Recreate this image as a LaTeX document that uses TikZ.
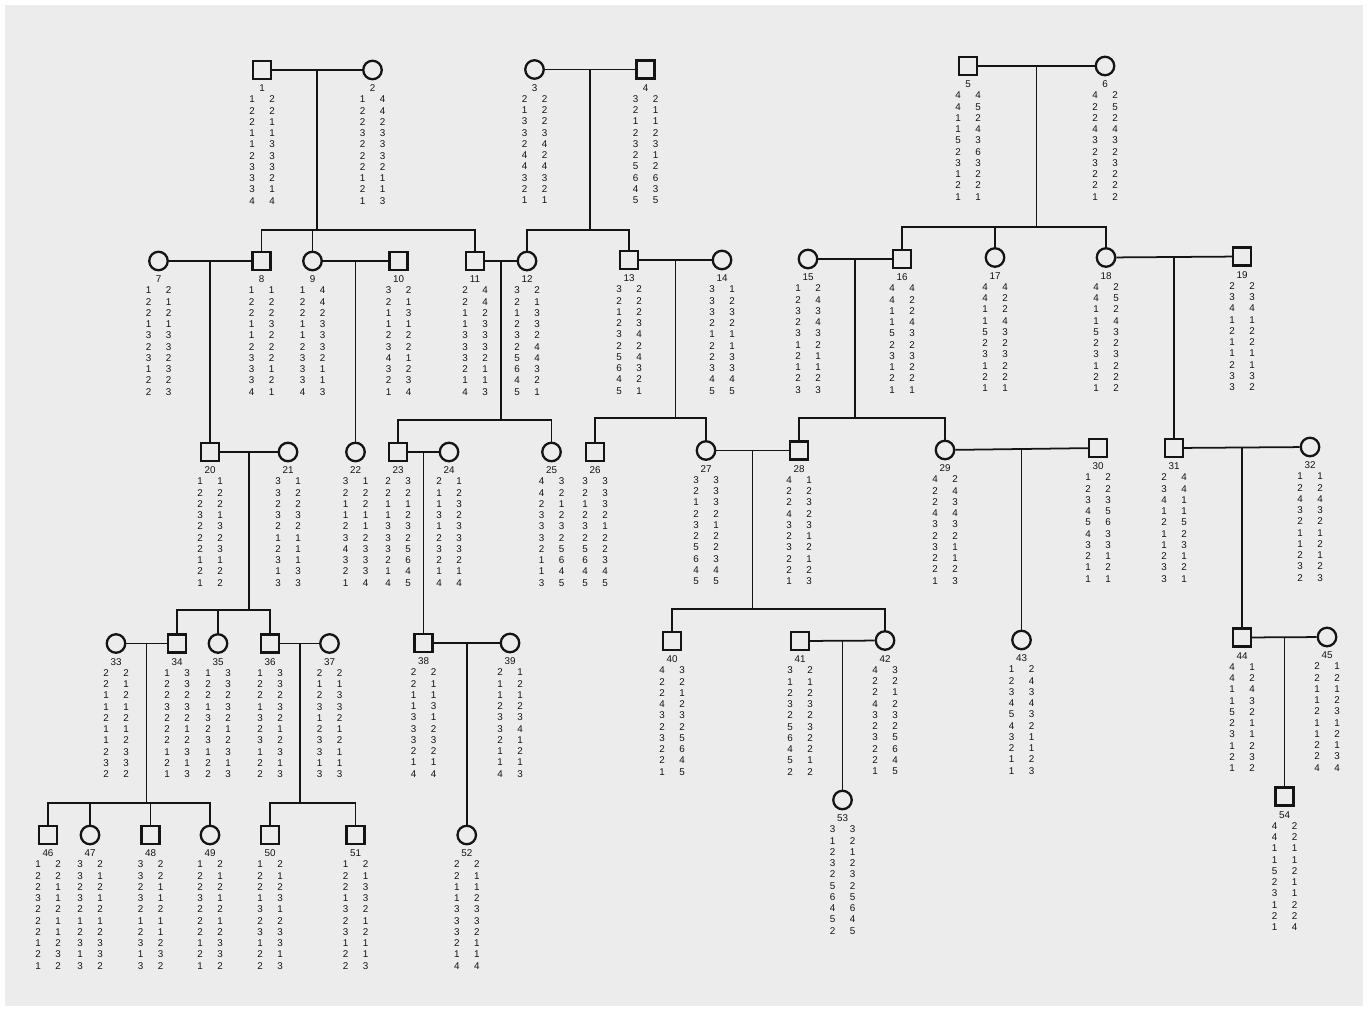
\documentclass[tikz,border=0pt]{standalone}
\usepackage{fontspec}
\newfontfamily\pedfont{Liberation Sans}
\usepackage{tikz}
\usetikzlibrary{positioning, calc}

\definecolor{paper}{RGB}{236,236,236}
\definecolor{ink}{RGB}{20,20,20}

\tikzset{
  male/.style={draw=ink, line width=1.3pt, rectangle, minimum size=0.36cm, inner sep=0pt},
  female/.style={draw=ink, line width=1.3pt, circle, minimum size=0.37cm, inner sep=0pt},
  line/.style={draw=ink, line width=1pt},
  idnum/.style={font=\pedfont\fontsize{5.6}{6}\selectfont, text=ink, inner sep=0pt},
  allele/.style={font=\pedfont\fontsize{5.6}{6}\selectfont, text=ink, inner sep=0pt}
}

% one person: id, sex, x, y, allele pairs
\newcommand{\pedperson}[5]{%
  \node[#2] (p#1) at (#3,#4) {};
  \node[idnum] (n#1) at ($(p#1)+(0,18.5)$) {#1};
  \foreach \a/\b [count=\i] in {#5} {
    \pgfmathsetmacro{\dy}{29.5+11.25*(\i-1)}
    \node[allele] (g#1a\i) at ($(p#1)+(-10,\dy)$) {\a};
    \node[allele] (g#1b\i) at ($(p#1)+(10,\dy)$) {\b};
  }
}

\begin{document}
\begin{tikzpicture}[x=0.02cm, y=-0.02cm]
  \useasboundingbox (0,0) rectangle (1368,1010);
  \fill[white] (0,0) rectangle (1368,1010);
  \fill[paper] (5,5) rectangle (1363,1006);

  % Generation I
  \pedperson{1}{male}{262}{70}{1/2,2/2,2/1,1/1,1/3,2/3,3/3,3/2,3/1,4/4}
  \pedperson{2}{female}{372.5}{70}{1/4,2/4,2/2,3/3,2/3,2/3,2/2,1/1,2/1,1/3}
  \pedperson{3}{female}{534.5}{69.5}{2/2,1/2,3/2,3/3,2/4,4/2,4/4,3/3,2/2,1/1}
  \pedperson{4}{male}{645.5}{69.5}{3/2,2/1,1/1,2/2,3/3,2/1,5/2,6/6,4/3,5/5}
  \pedperson{5}{male}{968}{66}{4/4,4/5,1/2,1/4,5/3,2/6,3/3,1/2,2/2,1/1}
  \pedperson{6}{female}{1105}{66}{4/2,2/5,2/2,4/4,3/3,2/2,3/3,2/2,2/2,1/2}

  % Generation II
  \pedperson{7}{female}{158.5}{261}{1/2,2/1,2/2,1/1,3/3,2/3,3/2,1/3,2/2,2/3}
  \pedperson{8}{male}{261.5}{261}{1/1,2/2,2/2,1/3,1/2,2/2,3/2,3/1,3/2,4/1}
  \pedperson{9}{female}{312.5}{261}{1/4,2/4,2/2,1/3,1/3,2/3,3/2,3/1,3/1,4/3}
  \pedperson{10}{male}{398.5}{261}{3/2,2/1,1/3,1/1,2/2,3/2,4/1,3/2,2/3,1/4}
  \pedperson{11}{male}{475}{261}{2/4,2/4,1/2,1/3,3/3,3/3,3/2,2/1,1/1,4/3}
  \pedperson{12}{female}{527}{261}{3/2,2/1,1/3,2/3,3/2,2/4,5/4,6/3,4/2,5/1}
  \pedperson{13}{male}{629}{260}{3/2,2/2,1/2,2/3,3/4,2/2,5/4,6/3,4/2,5/1}
  \pedperson{14}{female}{722}{260}{3/1,3/2,3/3,2/2,1/1,2/1,2/3,3/3,4/4,5/5}
  \pedperson{15}{female}{808}{259}{1/2,2/4,3/3,2/4,3/3,1/2,2/1,1/1,2/2,3/3}
  \pedperson{16}{male}{902}{259}{4/4,4/2,1/2,1/4,5/3,2/2,3/3,1/2,2/2,1/1}
  \pedperson{17}{female}{995}{257.5}{4/4,4/2,1/2,1/4,5/3,2/2,3/3,1/2,2/2,1/1}
  \pedperson{18}{female}{1106}{257.5}{4/2,4/5,1/2,1/4,5/3,2/2,3/3,1/2,2/2,1/2}
  \pedperson{19}{male}{1242}{256.5}{2/2,3/3,4/4,1/1,2/2,1/2,1/1,2/1,3/3,3/2}

  % Generation III
  \pedperson{20}{male}{210}{452}{1/1,2/2,2/2,3/1,2/3,2/2,2/3,1/1,2/2,1/2}
  \pedperson{21}{female}{288}{452}{3/1,3/2,2/2,3/3,2/2,1/1,2/1,3/1,1/3,3/3}
  \pedperson{22}{female}{355.5}{452}{3/1,2/2,1/2,1/1,2/1,3/2,4/3,3/3,2/3,1/4}
  \pedperson{23}{male}{398}{452}{2/3,2/2,1/1,1/2,3/3,3/2,3/5,2/6,1/4,4/5}
  \pedperson{24}{female}{449}{452}{2/1,1/2,1/3,3/2,1/3,2/3,3/3,2/2,1/1,4/4}
  \pedperson{25}{female}{551.5}{452}{4/3,4/2,2/1,3/2,3/3,3/2,2/5,1/6,1/4,3/5}
  \pedperson{26}{male}{595}{452}{3/3,2/3,1/3,2/2,3/1,2/2,5/2,6/3,4/4,5/5}
  \pedperson{27}{female}{706}{450.5}{3/3,2/3,1/3,2/2,3/1,2/2,5/2,6/3,4/4,5/5}
  \pedperson{28}{male}{799}{450.5}{4/1,2/2,2/3,4/2,3/3,2/1,3/2,2/1,2/2,1/3}
  \pedperson{29}{female}{945}{450}{4/2,2/4,2/3,4/4,3/3,2/2,3/1,2/1,2/2,1/3}
  \pedperson{30}{male}{1098}{448}{1/2,2/2,3/3,4/5,5/6,4/3,3/3,2/1,1/2,1/1}
  \pedperson{31}{male}{1174}{448}{2/4,3/4,4/1,1/1,2/5,1/2,1/3,2/1,3/2,3/1}
  \pedperson{32}{female}{1310}{447}{1/1,2/2,4/4,3/3,2/2,1/1,1/2,2/1,3/2,2/3}

  % Generation IV
  \pedperson{33}{female}{116}{643.5}{2/2,2/1,1/2,1/1,2/2,1/1,1/2,2/3,3/3,2/2}
  \pedperson{34}{male}{177}{643.5}{1/3,2/3,2/2,3/3,2/2,2/1,2/2,1/3,2/1,1/3}
  \pedperson{35}{female}{218}{643.5}{1/3,2/3,2/2,1/3,3/2,2/1,3/2,1/3,2/1,2/3}
  \pedperson{36}{male}{270}{643.5}{1/3,2/3,2/2,1/3,3/2,2/1,3/2,1/3,2/1,2/3}
  \pedperson{37}{female}{329.5}{643.5}{2/2,1/1,2/3,3/3,1/2,2/1,3/2,3/1,1/1,3/3}
  \pedperson{38}{male}{423.5}{643}{2/2,2/1,1/1,1/3,3/1,3/2,3/3,2/2,1/1,4/4}
  \pedperson{39}{female}{510}{643}{2/1,1/2,1/1,2/2,3/3,3/4,2/1,1/2,1/1,4/3}
  \pedperson{40}{male}{672}{641}{4/3,2/2,2/1,4/2,3/3,2/2,3/5,2/6,2/4,1/5}
  \pedperson{41}{male}{800}{641}{3/2,1/1,2/2,3/3,2/2,5/3,6/2,4/2,5/1,2/2}
  \pedperson{42}{female}{885}{640.5}{4/3,2/2,2/1,4/2,3/3,2/2,3/5,2/6,2/4,1/5}
  \pedperson{43}{female}{1021.5}{640}{1/2,2/4,3/3,4/4,5/3,4/2,3/1,2/1,1/2,1/3}
  \pedperson{44}{male}{1242}{637.5}{4/1,4/2,1/4,1/3,5/2,2/1,3/1,1/2,2/3,1/2}
  \pedperson{45}{female}{1327}{637}{2/1,2/2,1/1,1/2,2/3,1/1,1/2,2/1,2/3,4/4}

  % Generation V
  \pedperson{46}{male}{48}{835}{1/2,2/2,2/1,3/1,2/2,2/1,2/1,1/2,2/3,1/2}
  \pedperson{47}{female}{90}{835}{3/2,3/1,2/2,3/1,2/2,1/1,2/2,3/3,1/3,3/2}
  \pedperson{48}{male}{150.5}{835}{3/2,3/2,2/1,3/1,2/2,1/1,2/1,3/2,1/3,3/2}
  \pedperson{49}{female}{210}{835}{1/2,2/1,2/2,3/1,2/2,2/1,2/2,1/3,2/3,1/2}
  \pedperson{50}{male}{270}{835}{1/2,2/1,2/2,1/3,3/1,2/2,3/3,1/3,2/1,2/3}
  \pedperson{51}{male}{355.5}{835}{1/2,2/1,2/3,1/3,3/2,2/1,3/2,1/1,2/1,2/3}
  \pedperson{52}{female}{466.75}{835}{2/2,2/1,1/1,1/2,3/3,3/3,3/2,2/1,1/1,4/4}
  \pedperson{53}{female}{842.5}{800}{3/3,1/2,2/1,3/2,2/3,5/2,6/5,4/6,5/4,2/5}
  \pedperson{54}{male}{1284.5}{796.5}{4/2,4/2,1/1,1/1,5/2,2/1,3/1,1/2,2/2,1/4}

  % Marriage lines and their midpoints
  \foreach \h/\w in {1/2,3/4,5/6,7/8,9/10,11/12,13/14,15/16,18/19,20/21,23/24,27/28,29/30,31/32,33/34,36/37,38/39,41/42,44/45} {
    \draw[line] (p\h) -- (p\w);
    \coordinate (m\h) at ($(p\h)!0.5!(p\w)$);
  }

  % Sibships with several children
  \draw[line] (m1) -- (m1 |- 0,230) coordinate (s1);
  \draw[line] (p8) |- (s1) -| (p11);
  \draw[line] (p9) -- (p9 |- s1);

  \draw[line] (m3) -- (m3 |- 0,230) coordinate (s3);
  \draw[line] (p12) |- (s3) -| (p13);

  \draw[line] (m5) -- (m5 |- 0,227) coordinate (s5);
  \draw[line] (p16) |- (s5) -| (p18);
  \draw[line] (p17) -- (p17 |- s5);

  \draw[line] (m11) -- (m11 |- 0,420) coordinate (s11);
  \draw[line] (p23) |- (s11) -| (p25);

  \draw[line] (m13) -- (m13 |- 0,418) coordinate (s13);
  \draw[line] (p26) |- (s13) -| (p27);

  \draw[line] (m15) -- (m15 |- 0,418) coordinate (s15);
  \draw[line] (p28) |- (s15) -| (p29);

  \draw[line] (m20) -- (m20 |- 0,610) coordinate (s20);
  \draw[line] (p34) |- (s20) -| (p36);
  \draw[line] (p35) -- (p35 |- s20);

  \draw[line] (m27) -- (m27 |- 0,609) coordinate (s27);
  \draw[line] (p40) |- (s27) -| (p42);

  \draw[line] (m33) -- (m33 |- 0,803) coordinate (s33);
  \draw[line] (p46) |- (s33) -| (p49);
  \draw[line] (p47) -- (p47 |- s33);
  \draw[line] (p48) -- (p48 |- s33);

  \draw[line] (m36) -- (m36 |- 0,803) coordinate (s36);
  \draw[line] (p50) |- (s36) -| (p51);

  % Only children
  \draw[line] (m7) -- (p20);
  \draw[line] (m9) -- (p22);
  \draw[line] (m18) -- (p31);
  \draw[line] (m23) -- (p38);
  \draw[line] (m29) -- (p43);
  \draw[line] (m31) -- (p44);
  \draw[line] (m38) -- (p52);
  \draw[line] (m41) -- (p53);
  \draw[line] (m44) -- (p54);
\end{tikzpicture}
\end{document}
